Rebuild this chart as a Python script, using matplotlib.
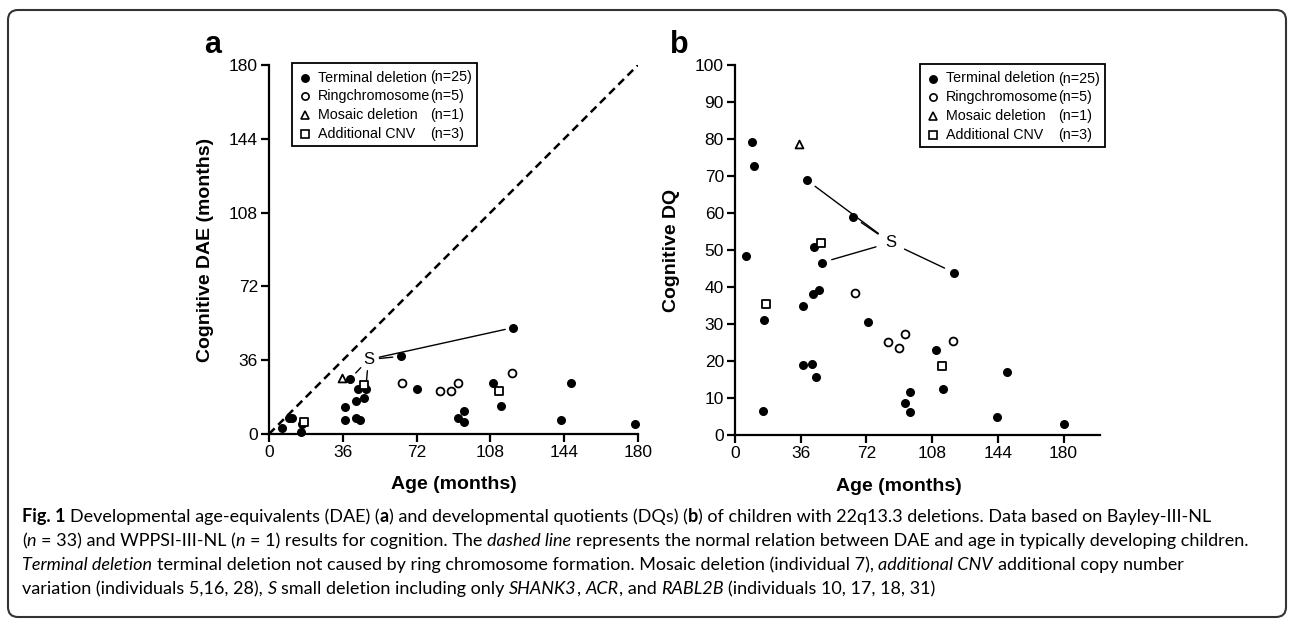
import numpy as np
import matplotlib
matplotlib.use('Agg')
import matplotlib.pyplot as plt
from matplotlib.patches import FancyBboxPatch, Rectangle

# panel a: cognitive DAE (months) vs age (months)
terminal_age_a = [6.3, 9.8, 11.4, 15.8, 16.3, 36.9, 37.2, 39.5, 42.3, 42.3, 43.4, 44.2, 46.2,
                  47.2, 64.4, 72.2, 92.2, 95.1, 95.1, 109.3, 113.3, 119.2, 142.3, 147.5, 178.4]
terminal_dae = [3.1, 7.9, 7.9, 1.0, 4.9, 6.8, 13.0, 26.8, 15.9, 7.9, 22.0, 6.8, 17.8,
                22.0, 37.9, 21.9, 7.9, 11.0, 5.8, 25.0, 13.8, 51.9, 6.8, 25.0, 4.9]
ring_age_a = [65.0, 83.2, 88.9, 92.2, 118.5]
ring_dae = [25.1, 20.9, 20.9, 25.1, 30.0]
mosaic_age_a = [35.4]
mosaic_dae = [27.4]
cnv_age_a = [17.1, 46.3, 112.2]
cnv_dae = [6.0, 24.0, 21.1]
s_label_a = (48.5, 36.3)

# panel b: cognitive DQ vs age (months)
terminal_age_b = [6.0, 9.3, 10.6, 15.5, 16.1, 37.1, 37.4, 39.3, 42.4, 42.6, 43.3, 44.4, 46.2,
                  47.5, 64.5, 72.7, 93.2, 95.9, 95.9, 110.1, 114.2, 120.0, 143.7, 148.9, 180.3]
terminal_dq = [48.4, 79.2, 72.7, 6.5, 31.1, 18.9, 34.9, 68.9, 19.1, 38.0, 50.9, 15.8, 39.2,
               46.6, 59.0, 30.5, 8.7, 11.6, 6.3, 23.0, 12.4, 43.9, 5.0, 16.9, 2.9]
ring_age_b = [65.8, 84.0, 89.9, 93.2, 119.6]
ring_dq = [38.5, 25.2, 23.6, 27.2, 25.4]
mosaic_age_b = [35.0]
mosaic_dq = [78.7]
cnv_age_b = [17.0, 47.0, 113.2]
cnv_dq = [35.3, 52.0, 18.7]
s_label_b = (85.3, 52.0)

# individuals with the small deletion (index into terminal arrays)
s_index = [7, 14, 13, 21]

legend_labels = ['Terminal deletion', 'Ringchromosome', 'Mosaic deletion', 'Additional CNV']
legend_counts = ['(n=25)', '(n=5)', '(n=1)', '(n=3)']

age_ticks = [0, 36, 72, 108, 144, 180]
dae_ticks = [0, 36, 72, 108, 144, 180]
dq_ticks = list(range(0, 101, 10))

W, H = 1290, 622
FONT = 'Liberation Sans'
CAP_FONT = 'Lato'

plt.rcParams['font.family'] = FONT
plt.rcParams['axes.linewidth'] = 1.6

fig = plt.figure(figsize=(W / 100.0, H / 100.0), dpi=100)

ax_a = fig.add_axes([269 / W, 1 - 434 / H, 369 / W, 369 / H])
ax_b = fig.add_axes([735 / W, 1 - 435 / H, 365 / W, 370 / H])

marker_kw = dict(s=30, color='k', zorder=3, clip_on=False)
open_kw = dict(s=32, facecolor='white', edgecolor='k', linewidths=1.3, zorder=3, clip_on=False)


def style_axes(ax):
    for side in ['top', 'right']:
        ax.spines[side].set_visible(False)
    ax.tick_params(direction='out', length=6, width=1.6, labelsize=12.5, pad=2)


def scatter_groups(ax, term, ring, mosaic, cnv):
    ax.scatter(term[0], term[1], marker='o', **marker_kw)
    ax.scatter(ring[0], ring[1], marker='o', **open_kw)
    ax.scatter(mosaic[0], mosaic[1], marker='^', **open_kw)
    ax.scatter(cnv[0], cnv[1], marker='s', **open_kw)


def s_leaders(ax, xs, ys, pos, shrink_a, shrink_b):
    for i in s_index:
        ax.annotate('', xy=(xs[i], ys[i]), xytext=pos,
                    arrowprops=dict(arrowstyle='-', color='k', lw=1.0,
                                    shrinkA=shrink_a, shrinkB=shrink_b))
    ax.text(pos[0], pos[1], 'S', fontsize=12, ha='center', va='center')


def draw_legend(x0, y0):
    # x0, y0: top-left corner of the legend box in pixels
    fig.patches.append(Rectangle((x0 / W, 1 - (y0 + 83) / H), 185 / W, 83 / H,
                                 transform=fig.transFigure, fill=False, lw=1.3,
                                 edgecolor='k'))
    markers = [('o', 'k'), ('o', 'white'), ('^', 'white'), ('s', 'white')]
    for k in range(4):
        yy = 1 - (y0 + 14.5 + 18.8 * k) / H
        m, fc = markers[k]
        fig.lines.append(plt.Line2D([(x0 + 13) / W], [yy], marker=m, ms=5.2 if m == 'o' else 5.6,
                                    mfc=fc, mec='k', mew=1.2, transform=fig.transFigure))
        fig.text((x0 + 25.5) / W, yy, legend_labels[k], fontsize=10.3, va='center')
        fig.text((x0 + 138.5) / W, yy, legend_counts[k], fontsize=10.3, va='center')


# panel a
style_axes(ax_a)
ax_a.plot([0, 180], [0, 180], color='k', lw=1.8, ls=(0, (3.2, 2.0)), zorder=2)
scatter_groups(ax_a, (terminal_age_a, terminal_dae), (ring_age_a, ring_dae),
               (mosaic_age_a, mosaic_dae), (cnv_age_a, cnv_dae))
s_leaders(ax_a, terminal_age_a, terminal_dae, s_label_a, 8, 6)
ax_a.set_xlim(0, 180)
ax_a.set_ylim(0, 180)
ax_a.set_xticks(age_ticks)
ax_a.set_yticks(dae_ticks)
ax_a.set_xlabel('Age (months)', fontsize=14, fontweight='bold')
ax_a.set_ylabel('Cognitive DAE (months)', fontsize=14, fontweight='bold', labelpad=11)
ax_a.xaxis.set_label_coords(0.5, -0.115)

# panel b
style_axes(ax_b)
scatter_groups(ax_b, (terminal_age_b, terminal_dq), (ring_age_b, ring_dq),
               (mosaic_age_b, mosaic_dq), (cnv_age_b, cnv_dq))
s_leaders(ax_b, terminal_age_b, terminal_dq, s_label_b, 11, 7.5)
ax_b.set_xlim(0, 200)
ax_b.set_ylim(0, 100)
ax_b.set_xticks(age_ticks)
ax_b.set_yticks(dq_ticks)
ax_b.set_xlabel('Age (months)', fontsize=14, fontweight='bold')
ax_b.xaxis.set_label_coords(90 / 200.0, -0.115)
ax_b.set_ylabel('Cognitive DQ', fontsize=14, fontweight='bold', labelpad=11)

draw_legend(292, 63)
draw_legend(920, 64)

fig.text(213 / W, 1 - 53 / H, 'a', fontsize=22, fontweight='bold', ha='center', va='baseline')
fig.text(679 / W, 1 - 53 / H, 'b', fontsize=22, fontweight='bold', ha='center', va='baseline')

# caption with mixed bold / italic runs
caption = [
    [('Fig. 1', 'b'), (' Developmental age-equivalents (DAE) (', 'n'), ('a', 'b'),
     (') and developmental quotients (DQs) (', 'n'), ('b', 'b'),
     (') of children with 22q13.3 deletions. Data based on Bayley-III-NL', 'n')],
    [('(', 'n'), ('n', 'i'), (' = 33) and WPPSI-III-NL (', 'n'), ('n', 'i'),
     (' = 1) results for cognition. The ', 'n'), ('dashed line', 'i'),
     (' represents the normal relation between DAE and age in typically developing children.', 'n')],
    [('Terminal deletion', 'i'),
     (' terminal deletion not caused by ring chromosome formation. Mosaic deletion (individual 7), ', 'n'),
     ('additional CNV', 'i'), (' additional copy number', 'n')],
    [('variation (individuals 5,16, 28), ', 'n'), ('S', 'i'), (' small deletion including only ', 'n'),
     ('SHANK3', 'i'), (', ', 'n'), ('ACR', 'i'), (', and ', 'n'), ('RABL2B', 'i'),
     (' (individuals 10, 17, 18, 31)', 'n')],
]
# approximate widths of the caption lines in the original, pixels
caption_widths = [1212, 1210, 1163, 893]

renderer = fig.canvas.get_renderer()


def text_width(s, size, weight='normal', style='normal'):
    t = fig.text(0, 0, s, fontsize=size, family=CAP_FONT, fontweight=weight, fontstyle=style)
    w = t.get_window_extent(renderer).width
    t.remove()
    return w


def draw_runs(x, y, runs, size, draw=True):
    space = text_width('a a', size) - text_width('aa', size)
    for s, st in runs:
        weight = 'bold' if st == 'b' else 'normal'
        style = 'italic' if st == 'i' else 'normal'
        lead = len(s) - len(s.lstrip(' '))
        trail = len(s) - len(s.rstrip(' '))
        x += lead * space
        core = s.strip(' ')
        if draw:
            fig.text(x / W, 1 - y / H, core, fontsize=size, family=CAP_FONT,
                     fontweight=weight, fontstyle=style, va='baseline')
        x += text_width(core, size, weight, style) + trail * space
    return x


base = 11.0
total = sum(draw_runs(0, 0, runs, base, draw=False) for runs in caption)
cap_size = base * sum(caption_widths) / total
for k, runs in enumerate(caption):
    draw_runs(22, 522 + 24 * k, runs, cap_size)

# rounded frame around the figure
fig.patches.append(FancyBboxPatch((0.08, 0.05), 12.78, 6.07,
                                  boxstyle='round,pad=0,rounding_size=0.1',
                                  transform=fig.dpi_scale_trans, fill=False,
                                  lw=1.5, edgecolor='#333333'))

fig.savefig('out.png', dpi=100)
